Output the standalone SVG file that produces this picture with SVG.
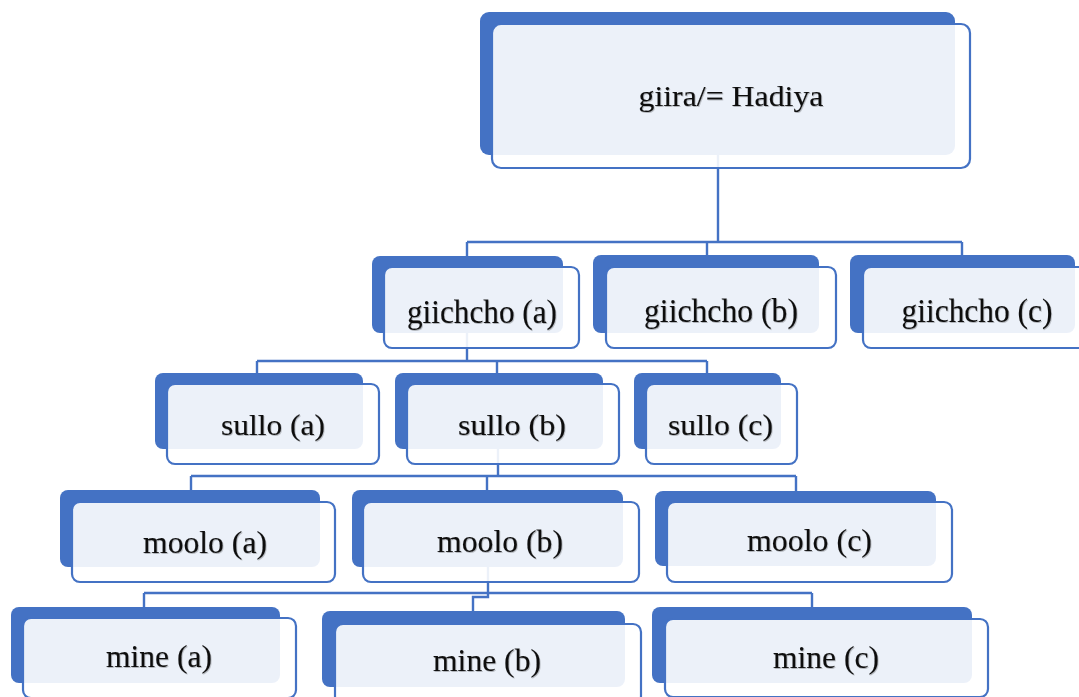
<svg xmlns="http://www.w3.org/2000/svg" width="1079" height="697" viewBox="0 0 1079 697">
<defs>
<filter id="tshadow" x="-10%" y="-20%" width="120%" height="150%">
<feDropShadow dx="0.8" dy="1" stdDeviation="0.7" flood-color="#000" flood-opacity="0.25"/>
</filter>
</defs>
<style>
.back{fill:#4472C4}
.front{fill:#ffffff;fill-opacity:0.9;stroke:#4472C4;stroke-width:2.2}
.conn{fill:none;stroke:#4472C4;stroke-width:2.4}
.lbl{font-family:"Liberation Serif","Times New Roman",serif;fill:#111;stroke:#111;stroke-width:0.1;text-anchor:middle;filter:url(#tshadow)}
</style>
<rect width="1079" height="697" fill="#ffffff"/>
<g id="connectors">
<path class="conn" d="M718 155V242M467 242H962M467 242V256M707 242V255M962 242V255"/>
<path class="conn" d="M467 333V361M257 361H707M257 361V373M497 361V373M707 361V373"/>
<path class="conn" d="M498 449V476M191 476H796M191 476V490M487 476V490M796 476V491"/>
<path class="conn" d="M488 567V597H473V611M144 593H812M144 593V607M812 593V607"/>
</g>
<g id="n-giira">
<rect class="back" x="480" y="12" width="475" height="143" rx="9"/>
<rect class="front" x="492" y="24" width="478" height="144" rx="9"/>
<text class="lbl" x="731" y="106" font-size="29" textLength="185" lengthAdjust="spacingAndGlyphs">giira/= Hadiya</text>
</g>
<g id="n-giichcho-a">
<rect class="back" x="372" y="256" width="191" height="77" rx="8"/>
<rect class="front" x="384" y="267" width="195" height="81" rx="8"/>
<text class="lbl" x="482" y="323" font-size="33" textLength="150" lengthAdjust="spacingAndGlyphs">giichcho (a)</text>
</g>
<g id="n-giichcho-b">
<rect class="back" x="593" y="255" width="226" height="78" rx="8"/>
<rect class="front" x="606" y="267" width="230" height="81" rx="8"/>
<text class="lbl" x="721" y="322" font-size="33" textLength="154" lengthAdjust="spacingAndGlyphs">giichcho (b)</text>
</g>
<g id="n-giichcho-c">
<rect class="back" x="850" y="255" width="225" height="78" rx="8"/>
<rect class="front" x="863" y="267" width="230" height="81" rx="8"/>
<text class="lbl" x="977" y="322" font-size="33" textLength="151" lengthAdjust="spacingAndGlyphs">giichcho (c)</text>
</g>
<g id="n-sullo-a">
<rect class="back" x="155" y="373" width="208" height="76" rx="8"/>
<rect class="front" x="167" y="384" width="212" height="80" rx="8"/>
<text class="lbl" x="273" y="435" font-size="30" textLength="104" lengthAdjust="spacingAndGlyphs">sullo (a)</text>
</g>
<g id="n-sullo-b">
<rect class="back" x="395" y="373" width="208" height="76" rx="8"/>
<rect class="front" x="407" y="384" width="212" height="80" rx="8"/>
<text class="lbl" x="512" y="435" font-size="30" textLength="108" lengthAdjust="spacingAndGlyphs">sullo (b)</text>
</g>
<g id="n-sullo-c">
<rect class="back" x="634" y="373" width="147" height="76" rx="8"/>
<rect class="front" x="646" y="384" width="151" height="80" rx="8"/>
<text class="lbl" x="720.5" y="435" font-size="30" textLength="105" lengthAdjust="spacingAndGlyphs">sullo (c)</text>
</g>
<g id="n-moolo-a">
<rect class="back" x="60" y="490" width="260" height="77" rx="8"/>
<rect class="front" x="72" y="502" width="263" height="80" rx="8"/>
<text class="lbl" x="205" y="553" font-size="31" textLength="124" lengthAdjust="spacingAndGlyphs">moolo (a)</text>
</g>
<g id="n-moolo-b">
<rect class="back" x="352" y="490" width="271" height="77" rx="8"/>
<rect class="front" x="363" y="502" width="276" height="80" rx="8"/>
<text class="lbl" x="500" y="552" font-size="31" textLength="126" lengthAdjust="spacingAndGlyphs">moolo (b)</text>
</g>
<g id="n-moolo-c">
<rect class="back" x="655" y="491" width="281" height="75" rx="8"/>
<rect class="front" x="667" y="502" width="285" height="80" rx="8"/>
<text class="lbl" x="809.5" y="551" font-size="31" textLength="125" lengthAdjust="spacingAndGlyphs">moolo (c)</text>
</g>
<g id="n-mine-a">
<rect class="back" x="11" y="607" width="269" height="76" rx="8"/>
<rect class="front" x="23" y="618" width="273" height="80" rx="8"/>
<text class="lbl" x="159" y="667" font-size="31" textLength="106" lengthAdjust="spacingAndGlyphs">mine (a)</text>
</g>
<g id="n-mine-b">
<rect class="back" x="322" y="611" width="303" height="76" rx="8"/>
<rect class="front" x="335" y="624" width="306" height="80" rx="8"/>
<text class="lbl" x="487" y="671" font-size="31" textLength="108" lengthAdjust="spacingAndGlyphs">mine (b)</text>
</g>
<g id="n-mine-c">
<rect class="back" x="652" y="607" width="320" height="76" rx="8"/>
<rect class="front" x="665" y="619" width="323" height="78" rx="8"/>
<text class="lbl" x="826" y="668" font-size="31" textLength="106" lengthAdjust="spacingAndGlyphs">mine (c)</text>
</g>
</svg>
